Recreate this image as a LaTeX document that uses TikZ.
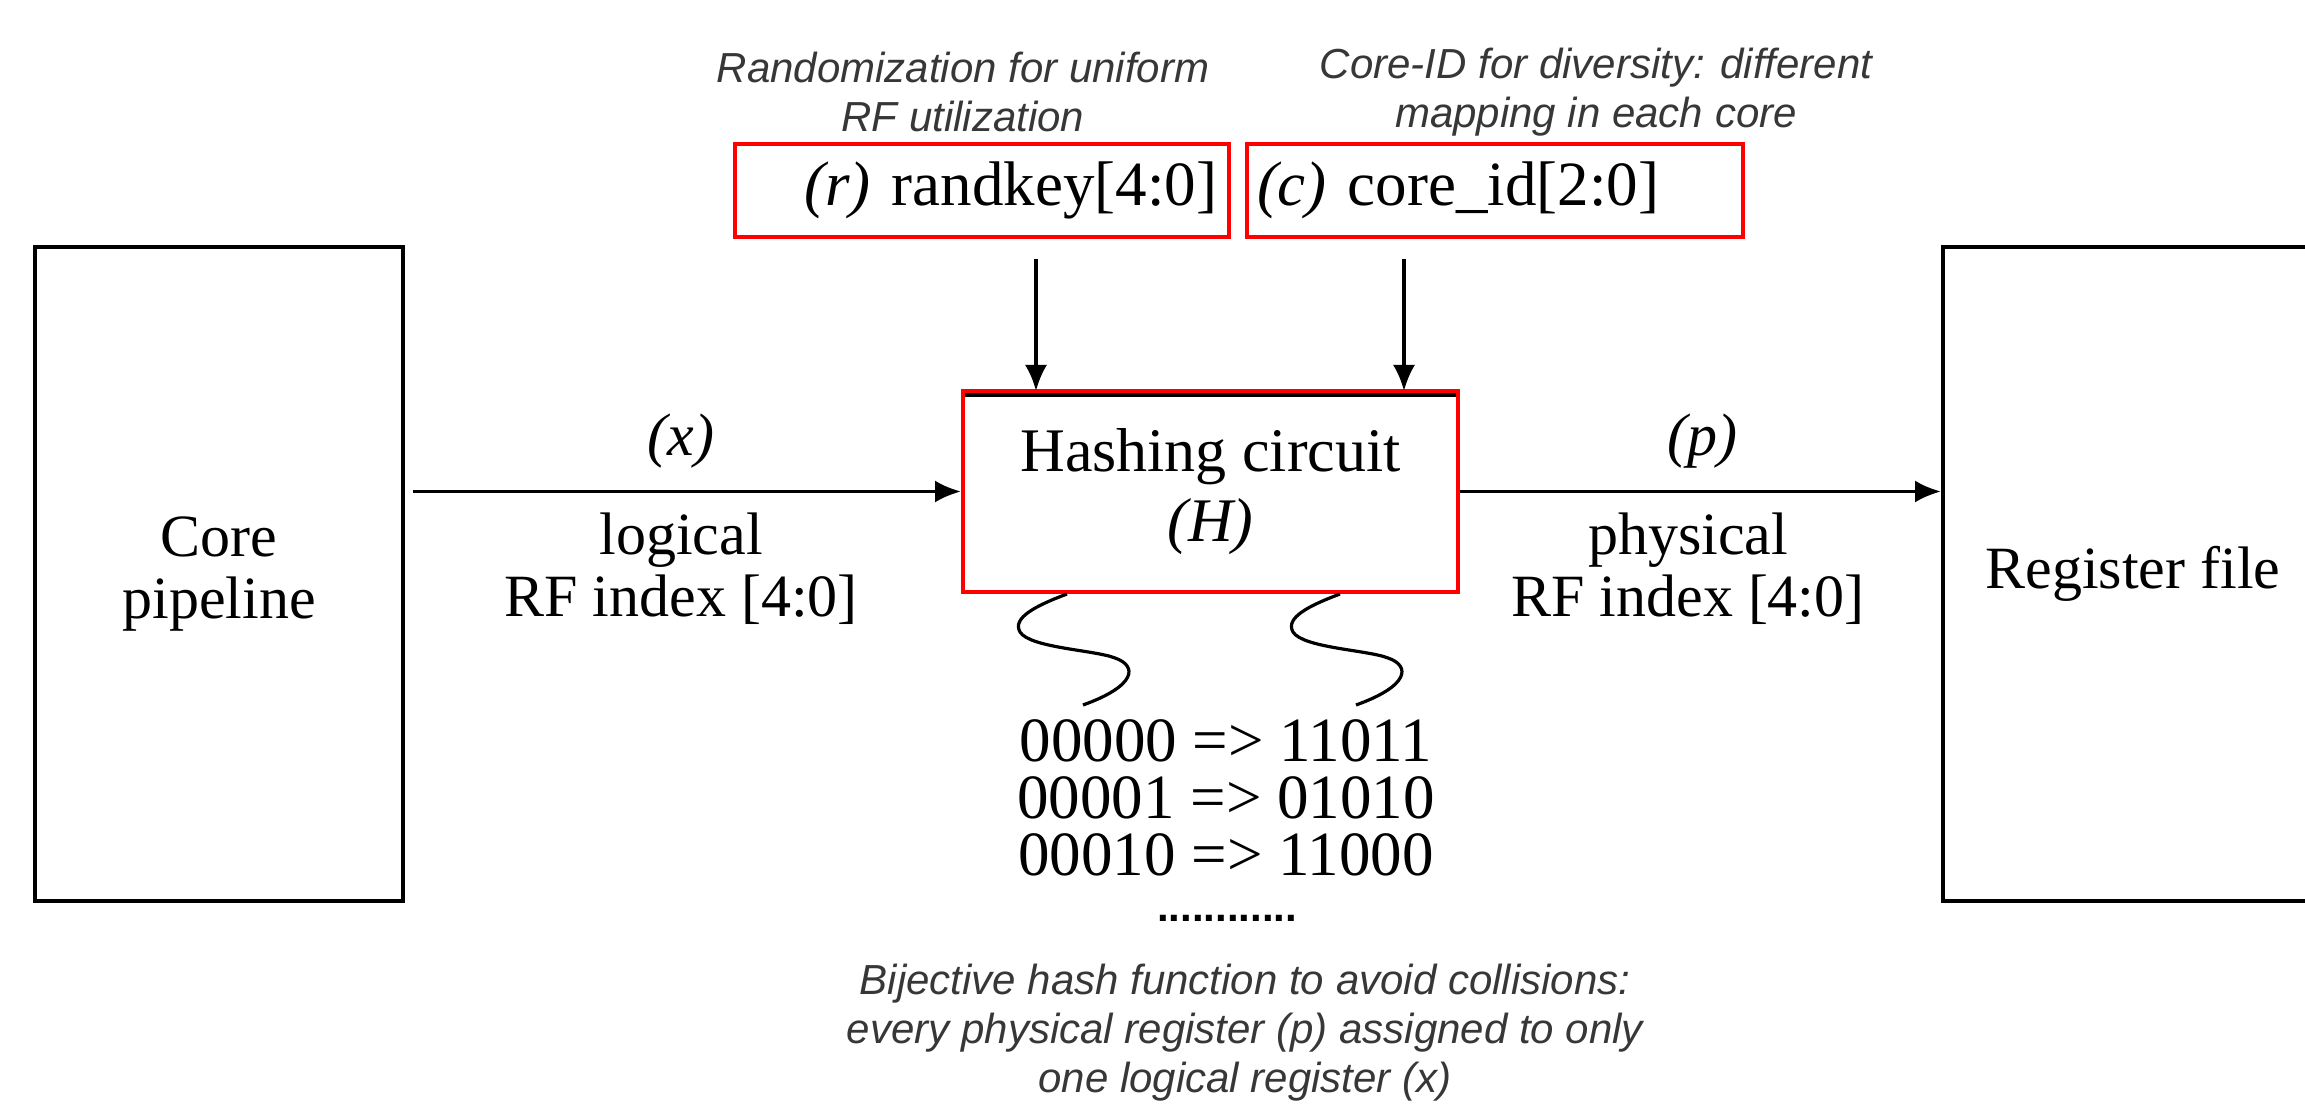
\documentclass[tikz,border=0pt]{standalone}
\usepackage{fontspec}
\setmainfont{Liberation Serif}
\newfontfamily\notefont{Liberation Sans}
\usetikzlibrary{arrows.meta}
\definecolor{boxred}{RGB}{255,0,0}
\definecolor{notegray}{RGB}{55,55,55}
\begin{document}
\begin{tikzpicture}[x=0.5pt,y=-0.5pt,
  blk/.style={draw=black,line width=2pt,inner sep=0pt},
  conn/.style={line width=1.7pt,-{Latex[length=13pt,width=11pt]}},
  lbl/.style={font=\fontsize{30}{31}\selectfont,align=center,inner sep=0pt},
  note/.style={font=\notefont\itshape\fontsize{21}{24.5}\selectfont,text=notegray,align=center,inner sep=0pt},
  redbox/.style={draw=boxred,line width=2pt,inner ysep=0pt,minimum height=46.5pt,font=\fontsize{31.5}{32}\selectfont},
  squig/.style={line width=1.6pt}
]
\useasboundingbox (0,0) rectangle (2305,1106);

% main blocks
\node[blk,lbl,minimum width=184pt,minimum height=327pt] (core) at (219,574) {Core\\pipeline};
\node[blk,lbl,minimum width=190pt,minimum height=327pt] (reg) at (2133,574) {Register file};

% hashing circuit
\node[blk,minimum width=247.5pt,minimum height=98.5pt] (hashbg) at (1210.5,493.5) {};
\node[draw=boxred,line width=2pt,lbl,minimum width=247.5pt,minimum height=100.5pt,font=\fontsize{31}{35}\selectfont] (hash) at (1210.5,491.5) {Hashing circuit\\\textit{(H)}};

% input boxes
\node[redbox,inner xsep=6pt,text width=235pt,align=right] (rk) at (982,190.5) {\textit{(r)} randkey[4:0]};
\node[redbox,inner xsep=5pt,text width=238pt,align=left] (cid) at (1495,190.5) {\textit{(c)} core\_id[2:0]};

% notes
\node[note] (n1) at (963,92) {Randomization for uniform\\RF utilization};
\node[note] (n2) at (1596,92) {Core-ID for diversity: different\\mapping in each core};
\node[note] (n3) at (1245,1033) {Bijective hash function to avoid collisions:\\every physical register (p) assigned to only\\one logical register (x)};

% arrow labels
\node[lbl] (xl) at (681,441) {\textit{(x)}};
\node[lbl] (ll) at (681,569) {logical\\RF index [4:0]};
\node[lbl] (pl) at (1702,441) {\textit{(p)}};
\node[lbl] (phl) at (1688,569) {physical\\RF index [4:0]};

% mapping
\node[lbl,font=\fontsize{31.5}{28.5}\selectfont] (map) at (1226,798) {00000 => 11011\\00001 => 01010\\00010 => 11000};
\node[inner sep=0pt,font=\notefont\bfseries\fontsize{21}{22}\selectfont] (dots) at (1227,918) {............};

% connectors
\coordinate (rin) at (1036,391);
\coordinate (cin) at (1404,391);
\draw[conn] (core.east |- hash.west) ++(4pt,0) -- (hash.west);
\draw[conn] (hash.east) -- (hash.east -| reg.west);
\draw[conn,shorten <=10pt] (rk.south -| rin) -- (rin);
\draw[conn,shorten <=10pt] (cid.south -| cin) -- (cin);

% squiggles
\draw[squig] (1067,594) .. controls (1035,606) and (1012,618) .. (1020,632)
  .. controls (1030,648) and (1095,650) .. (1115,658)
  .. controls (1138,666) and (1136,686) .. (1083,705);
\draw[squig] (1340,594) .. controls (1308,606) and (1285,618) .. (1293,632)
  .. controls (1303,648) and (1368,650) .. (1388,658)
  .. controls (1411,666) and (1409,686) .. (1356,705);
\end{tikzpicture}
\end{document}
